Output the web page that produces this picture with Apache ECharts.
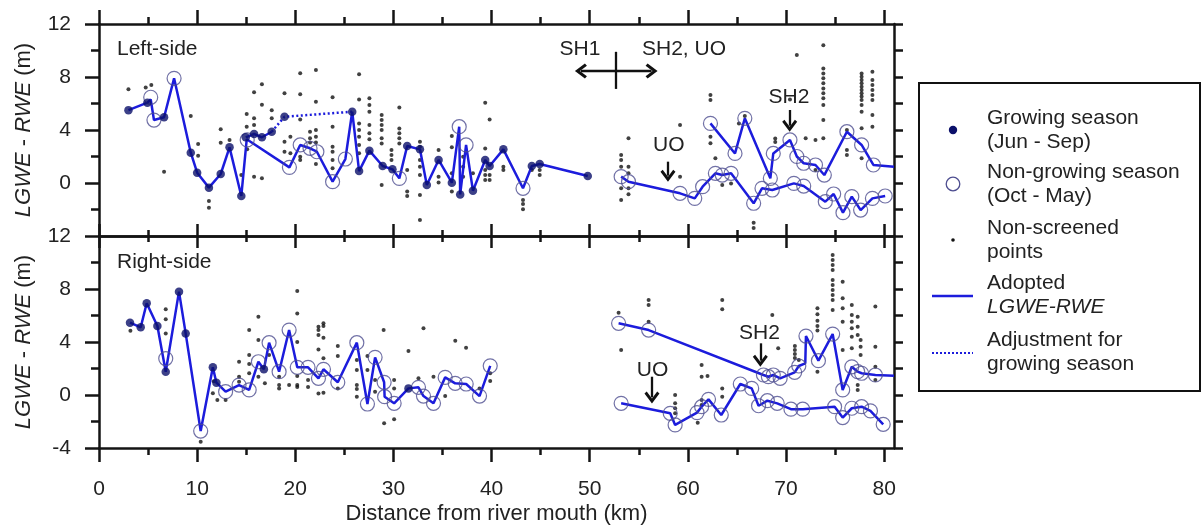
<!DOCTYPE html>
<html><head><meta charset="utf-8">
<script src="https://cdn.jsdelivr.net/npm/echarts@6/dist/echarts.min.js"></script>
<style>html,body{margin:0;padding:0;background:#fff}#c{width:1202px;height:527px}</style>
</head><body><div id="c"></div>
<script>
// ---------- tick labels ----------
const xTicksMajor = [0,10,20,30,40,50,60,70,80];
const xTicksMinor = [5,15,25,35,45,55,65,75];

// ---------- TOP PANEL (Left-side) ----------
const topGrowing = [[3.0,5.5],[4.93,6.06],[6.63,4.96],[9.35,2.29],[10.0,0.78],[11.2,-0.35],[12.4,0.68],[13.3,2.69],[14.5,-0.98],[14.95,3.45],[15.8,3.7],[16.6,3.45],[17.6,3.87],[18.9,5.0],[25.8,5.38],[26.5,0.9],[27.55,2.44],[28.9,1.28],[29.9,1.03],[31.4,2.79],[32.7,2.54],[33.4,-0.15],[34.6,1.74],[35.95,0.02],[36.8,-0.86],[38.1,-0.58],[39.35,1.74],[39.8,1.28],[41.2,2.54],[44.1,1.28],[44.9,1.43],[49.8,0.53]];
const topNonGrowing = [[5.27,6.47],[5.6,4.75],[7.65,7.9],[15.1,3.25],[19.4,1.18],[20.5,2.87],[21.5,2.62],[22.2,2.36],[23.8,0.1],[25.1,1.81],[30.6,0.35],[36.7,4.25],[37.4,2.87],[43.2,-0.4],
 [53.2,0.48],[53.95,0.1],[59.2,-0.78],[60.7,-1.16],[61.5,-0.28],[62.8,0.73],[63.5,0.6],[64.4,0.73],[66.7,-1.53],[67.55,-0.4],[68.6,-0.53],[70.8,-0.03],[71.8,-0.23],[74.0,-1.41],[74.85,-0.83],[75.8,-2.24],[76.7,-1.03],[77.6,-2.04],[78.8,-1.16],[80.1,-0.98],
 [62.3,4.5],[64.8,2.23],[65.8,4.88],[68.4,0.35],[68.7,2.23],[70.4,3.25],[71.1,2.0],[71.8,1.49],[73.0,1.36],[73.9,0.6],[76.2,3.87],[77.7,2.87],[78.9,1.36]];
const topLine1 = [[3.0,5.5],[4.93,6.06],[5.27,6.3],[5.6,4.75],[6.63,4.96],[7.65,7.9],[9.35,2.29],[10.0,0.78],[11.2,-0.35],[12.4,0.68],[13.3,2.69],[14.5,-0.98],[15.05,3.3],[19.4,1.18],[20.5,2.87],[21.5,2.62],[22.2,2.36],[23.8,0.1],[25.1,1.81],[25.8,5.38],[26.5,0.9],[27.55,2.44],[28.9,1.28],[29.9,1.03],[30.6,0.35],[31.4,2.79],[32.7,2.54],[33.4,-0.15],[34.6,1.74],[35.95,0.02],[36.7,4.25],[36.8,-0.86],[37.4,2.87],[38.1,-0.58],[39.35,1.74],[39.8,1.28],[41.2,2.54],[43.2,-0.4],[44.1,1.28],[44.9,1.43],[49.8,0.53]];
const topLine2 = [[14.95,3.45],[15.8,3.7],[16.6,3.45],[17.6,3.87]];
const topLine3 = [[53.2,0.48],[53.95,0.1],[59.2,-0.78],[60.7,-1.16],[61.5,-0.28],[62.8,0.73],[63.5,0.6],[64.4,0.73],[66.7,-1.53],[67.55,-0.4],[68.6,-0.53],[70.8,-0.03],[71.8,-0.23],[74.0,-1.41],[74.85,-0.83],[75.8,-2.24],[76.7,-1.03],[77.6,-2.04],[78.8,-1.16],[80.1,-0.98]];
const topLine4 = [[62.3,4.5],[64.8,2.23],[65.8,4.88],[68.4,0.35],[68.7,2.23],[70.4,3.25],[71.1,2.0],[71.8,1.49],[73.0,1.36],[73.9,0.6],[76.2,3.87],[77.7,2.87],[78.9,1.36],[81,1.22]];
const topAdjust = [[17.6,3.87],[18.9,5.0],[25.8,5.38]];
const topNonScreened = [[3.0,7.07],[4.76,7.2],[5.33,7.4],[6.63,0.85],[9.35,5.06],[10.1,2.94],[10.1,2.06],[11.2,-1.36],[11.2,-1.86],[12.4,4.05],[12.4,3.04],[13.3,3.25],[14.5,0.6],[15.05,5.2],[15.05,4.25],[15.8,6.85],[15.8,4.88],[15.8,4.38],[16.6,7.45],[16.6,5.9],[16.6,0.35],[15.8,0.48],[17.6,5.5],[17.6,4.88],[18.9,6.77],[18.9,3.12],[18.9,2.36],[19.5,3.5],[15.1,2.54],[19.5,2.24],
 [20.5,8.28],[22.1,8.53],[20.5,6.69],[22.1,6.14],[23.8,6.47],[20.5,4.8],[21.5,3.87],[21.5,3.37],[21.5,3.05],[22.1,4.0],[22.1,3.5],[22.1,3.05],[22.1,1.43],[20.5,1.99],[20.5,1.74],[23.8,4.25],[23.8,2.74],[23.8,2.36],[23.8,1.74],[23.8,1.11],
 [26.5,8.2],[26.5,6.31],[26.5,4.5],[26.5,4.0],[26.5,3.5],[26.5,2.86],[26.5,2.24],[27.55,6.39],[27.55,5.89],[27.55,5.38],[27.55,4.38],[27.55,3.75],[27.55,3.3],
 [28.8,5.13],[28.8,4.75],[28.8,4.38],[28.8,4.0],[28.8,3.37],[28.8,2.99],[28.8,-0.15],[30.6,5.69],[30.6,4.12],[30.6,3.75],[30.6,3.37],[30.6,2.99],[29.8,2.49],[29.8,2.11],[29.8,1.74],
 [31.4,0.98],[31.4,-0.65],[31.4,-0.98],[32.7,3.12],[32.7,2.74],[32.7,1.74],[32.7,1.23],[32.7,0.6],[32.7,-0.91],[32.7,-2.79],[34.6,2.49],[34.6,0.48],[34.6,0.03],
 [35.95,3.55],[35.95,2.69],[35.95,0.73],[35.95,-0.65],[37.1,1.99],[37.1,1.23],[37.1,0.48],[38.1,0.73],
 [39.35,6.06],[39.8,4.8],[39.35,2.61],[39.35,0.98],[39.35,0.6],[39.35,0.23],[39.8,0.6],[39.8,0.23],[41.2,1.23],[41.2,0.98],[43.2,-1.28],[43.2,-1.58],[43.2,-1.98],[44.1,0.98],[44.9,0.98],[44.9,0.6],
 [53.2,2.11],[53.2,1.74],[53.2,1.23],[53.95,1.23],[53.95,0.73],[53.2,-0.4],[53.95,-0.4],[53.95,-0.85],[53.2,-1.28],[53.95,3.37],[59.2,4.38],[59.2,0.48],[62.3,6.64],[62.3,6.26],[62.3,3.5],[62.3,3.0],[62.8,1.87],[63.5,-0.15],[64.4,-0.03],[65.2,4.5],[65.8,5.05],[66.7,-3.0],[66.7,-3.4],[68.9,3.35],[68.9,3.1],[70.4,6.3],[71.1,9.66],[72.0,3.37],[73.0,3.25],[73.0,0.98],
 [73.8,10.4],[73.8,8.65],[73.8,8.27],[73.8,7.9],[73.8,7.52],[73.8,7.14],[73.8,6.77],[73.8,6.39],[73.8,5.89],[73.8,4.75],[73.8,3.37],[76.2,4.0],[76.2,2.5],[76.2,2.11],
 [77.7,8.27],[77.7,8.02],[77.7,7.77],[77.7,7.52],[77.7,7.27],[77.7,7.02],[77.7,6.77],[77.7,6.52],[77.7,6.26],[77.7,5.89],[77.7,5.38],[77.7,4.13],[77.7,1.87],
 [78.8,8.4],[78.8,7.77],[78.8,7.39],[78.8,7.02],[78.8,6.64],[78.8,6.26],[78.8,5.13],[78.8,4.25]];

// ---------- BOTTOM PANEL (Right-side) ----------
const botGrowing = [[3.16,5.46],[4.25,5.11],[4.86,6.92],[5.95,5.21],[6.8,1.76],[8.15,7.8],[8.83,4.65],[11.6,2.09],[11.96,0.93],[16.8,1.94],[31.53,0.5]];
const botNonGrowing = [[6.8,2.75],[10.36,-2.72],[12.9,0.25],[14.27,0.75],[15.3,0.38],[16.24,2.51],[17.33,3.95],[18.35,1.76],[19.37,4.9],[20.2,2.09],[21.3,2.09],[22.36,1.26],[22.87,1.94],[24.33,0.96],[26.27,3.95],[27.35,-0.68],[28.13,2.84],[29.05,0.96],[29.1,-0.13],[30.07,-0.63],[32.55,0.58],[33.06,-0.08],[34.08,-0.63],[35.27,1.33],[36.29,0.88],[37.41,0.83],[38.77,-0.08],[39.86,2.2],
 [52.94,5.41],[56.0,4.9],[67.7,1.51],[68.2,1.38],[68.7,1.51],[69.4,1.26],[70.88,1.71],[71.3,2.19],[72.03,4.45],[73.3,2.59],[74.75,4.6],[75.77,0.38],[76.7,2.13],[77.3,1.76],[77.7,1.64],[79.1,1.51],
 [53.2,-0.63],[58.2,-1.38],[58.7,-2.26],[60.93,-1.33],[61.4,-0.88],[62.1,-0.33],[63.4,-1.51],[65.34,0.83],[66.5,0.5],[67.2,-0.81],[68.1,-0.43],[69.1,-0.63],[70.5,-1.07],[71.7,-1.07],[74.95,-0.88],[75.77,-1.7],[76.7,-1.0],[77.7,-0.88],[78.6,-1.2],[79.9,-2.21]];
const botLine1 = [[3.16,5.46],[4.25,5.11],[4.86,6.92],[5.95,5.21],[6.8,1.76],[8.15,7.8],[8.83,4.65],[10.36,-2.72],[11.6,2.09],[11.96,0.93],[12.9,0.25],[14.27,0.75],[15.3,0.38],[16.24,2.51],[16.8,1.94],[17.33,3.95],[18.35,1.76],[19.37,4.9],[20.2,2.09],[21.3,2.09],[22.36,1.26],[22.87,1.94],[24.33,0.96],[26.27,3.95],[27.35,-0.68],[28.13,2.84],[29.05,0.96],[29.1,-0.13],[30.07,-0.63],[31.53,0.5],[32.55,0.58],[33.06,-0.08],[34.08,-0.63],[35.27,1.33],[36.29,0.88],[37.41,0.83],[38.77,-0.08],[39.86,2.2]];
const botLine2 = [[52.94,5.41],[56.0,4.9],[67.7,1.51],[68.2,1.38],[68.7,1.51],[69.4,1.26],[70.88,1.71],[71.3,2.19],[71.96,2.39],[72.03,4.45],[73.3,2.59],[74.75,4.6],[75.77,0.38],[76.7,2.13],[77.3,1.76],[77.7,1.64],[79.1,1.51],[81,1.45]];
const botLine3 = [[53.2,-0.63],[58.2,-1.38],[58.7,-2.26],[60.93,-1.33],[61.4,-0.88],[62.1,-0.33],[63.4,-1.51],[65.34,0.83],[66.5,0.5],[67.2,-0.81],[68.1,-0.43],[69.1,-0.63],[70.5,-1.07],[71.7,-1.07],[74.95,-0.88],[75.77,-1.7],[76.7,-1.0],[77.7,-0.88],[78.6,-1.2],[79.9,-2.21]];
const botNonScreened = [[3.2,4.85],[6.8,6.47],[6.8,5.71],[6.8,4.65],[10.36,-3.52],[11.6,0.13],[12.06,-0.38],[12.9,-0.38],[11.7,1.04],[14.27,2.51],[14.27,1.38],[14.27,1.0],[15.3,4.9],[15.3,3.02],[15.3,2.34],[15.3,1.64],[16.24,5.9],[16.24,4.15],[16.24,1.38],[16.9,0.88],[17.33,3.02],[18.35,1.38],[18.35,0.75],[18.35,0.5],[19.37,0.75],
 [20.2,7.85],[20.2,6.16],[20.2,4.0],[20.2,1.43],[20.2,0.75],[20.2,0.6],[21.3,1.13],[21.3,0.6],[22.36,5.15],[22.36,4.9],[22.36,4.52],[22.36,3.44],[22.36,0.12],[22.87,5.41],[22.87,5.2],[22.87,4.33],[22.87,2.77],[22.87,0.17],[24.33,3.7],[24.33,2.95],[24.33,0.5],
 [26.27,2.64],[26.27,1.89],[26.27,0.75],[26.27,0.45],[26.27,-0.13],[27.35,2.95],[27.35,1.89],[28.13,1.13],[28.13,0.25],[29.0,4.9],[29.05,-2.14],[30.07,1.13],[30.07,0.5],[30.07,-1.83],[31.53,3.32],[32.55,1.26],[33.06,5.03],[34.08,1.38],[35.27,-0.08],[36.3,4.1],[37.4,3.57],[39.86,1.64],[39.86,1.06],[38.77,0.5],
 [52.94,6.21],[53.2,3.4],[56.0,7.17],[56.0,6.79],[56.0,5.53],[58.7,0.0],[58.7,-0.63],[58.7,-1.0],[58.7,-1.38],[61.4,2.26],[61.4,1.38],[62.0,1.43],[61.0,-2.09],[61.4,-0.38],[61.4,-0.75],[63.5,7.17],[63.5,6.47],[63.5,0.5],[63.5,-0.13],[68.6,6.04],[69.2,3.52],
 [70.9,3.7],[70.9,3.4],[70.9,3.1],[70.9,2.8],[71.3,2.64],[73.2,6.54],[73.2,6.1],[73.2,5.6],[73.2,5.2],[73.2,4.86],[73.2,1.76],
 [74.75,10.57],[74.75,10.19],[74.75,9.81],[74.75,9.43],[74.75,8.68],[74.75,8.3],[74.75,7.92],[74.75,7.55],[74.75,7.17],[74.75,6.42],
 [75.77,8.55],[75.77,7.3],[75.77,6.54],[75.77,5.53],[75.77,3.4],[76.7,6.79],[76.7,6.04],[76.7,5.53],[76.7,5.03],[76.7,4.4],[76.7,3.52],[77.3,5.91],[77.3,5.16],[77.3,4.53],[77.6,4.15],[77.6,3.65],[77.6,3.02],[77.3,0.75],[77.3,0.38],[79.1,6.67],[79.1,3.65],[79.1,2.13],[79.1,1.13]];

// ---------- annotations (data coordinates) ----------
const topLabels = [{name:'SH1',coord:[49.0,10.1]},{name:'SH2, UO',coord:[59.6,10.1]},{name:'UO',coord:[58.05,2.87]},{name:'SH2',coord:[70.3,6.5]},{name:'Left-side',coord:[1.83,10.1],label:{align:'left'}}];
const botLabels = [{name:'UO',coord:[56.4,1.89]},{name:'SH2',coord:[67.3,4.65]},{name:'Right-side',coord:[1.83,10.0],label:{align:'left'}}];

const FF = '"Liberation Sans", Arial, Helvetica, sans-serif';
const AX = '#141414', TXT = '#222', BLUE = '#1c1cdc', NAVY = '#0b106a', CIRC = '#4e4e90';
const CHEV = 'path://M0,10 L10,0 L20,10 L17,12 L10,5 L3,12 Z';

const topArrows = [
  [{coord:[52.7,9.9],symbol:'none'},{coord:[52.7,7.1],symbol:'none'}],
  [{coord:[49.1,8.45],symbol:CHEV},{coord:[56.3,8.45],symbol:CHEV}],
  [{coord:[57.97,1.61],symbol:'none'},{coord:[57.97,0.55],symbol:CHEV}],
  [{coord:[70.37,5.51],symbol:'none'},{coord:[70.37,4.32],symbol:CHEV}]
];
const botArrows = [
  [{coord:[56.34,1.38],symbol:'none'},{coord:[56.34,-0.18],symbol:CHEV}],
  [{coord:[67.38,3.9],symbol:'none'},{coord:[67.38,2.59],symbol:CHEV}]
];

function xAx(gi, pos, vals, len, inside, lineShow, extra) {
  return Object.assign({
    type:'value', gridIndex:gi, position:pos, min:0, max:81, interval:10,
    axisLine:{show:lineShow, onZero:false, lineStyle:{color:AX, width:2.5}},
    axisTick:{show:true, inside:inside, length:len, customValues:vals, lineStyle:{color:AX, width:2.5}},
    axisLabel:{show:false}, splitLine:{show:false}
  }, extra || {});
}
const yName = {name:'{i|LGWE} - {i|RWE} (m)', nameLocation:'middle', nameGap:64,
  nameTextStyle:{fontSize:22, color:TXT, fontFamily:FF, rich:{i:{fontStyle:'italic', fontSize:22, color:TXT, fontFamily:FF}}}};
function yLeft(gi, fmt) {
  return Object.assign({
    type:'value', gridIndex:gi, position:'left', min:-4, max:12, interval:4,
    axisLine:{show:true, onZero:false, lineStyle:{color:AX, width:2.5}},
    axisTick:{show:true, length:14, lineStyle:{color:AX, width:2.5}},
    minorTick:{show:true, splitNumber:2, length:8, lineStyle:{color:AX, width:2.5}},
    axisLabel:{show:true, fontSize:21, color:TXT, fontFamily:FF, margin:28, formatter:fmt},
    splitLine:{show:false}, minorSplitLine:{show:false}
  }, yName);
}
function yRight(gi) {
  return {type:'value', gridIndex:gi, position:'right', min:-4, max:12, interval:2,
    axisLine:{show:true, onZero:false, lineStyle:{color:AX, width:2.5}},
    axisTick:{show:true, length:9, lineStyle:{color:AX, width:2.5}},
    axisLabel:{show:false}, splitLine:{show:false}};
}

function panel(xi, yi, ns, lines, adjust, ng, g, labels, arrows) {
  const s = [];
  s.push({type:'scatter', xAxisIndex:xi, yAxisIndex:yi, data:ns, symbolSize:4, itemStyle:{color:'#111'}, silent:true, z:1,
    markLine:{silent:true, animation:false, symbolSize:[15,12], lineStyle:{color:'#111', width:2.3, type:'solid'}, label:{show:false}, emphasis:{disabled:true}, data:arrows},
    markPoint:{silent:true, animation:false, symbol:'circle', symbolSize:1, itemStyle:{color:'rgba(0,0,0,0)'},
      label:{show:true, position:'inside', formatter:'{b}', fontSize:21, color:TXT, fontFamily:FF}, data:labels}
  });
  lines.forEach(seg => s.push({type:'line', xAxisIndex:xi, yAxisIndex:yi, data:seg, showSymbol:false, symbol:'none', silent:true, z:2,
    lineStyle:{color:BLUE, width:2.5}}));
  adjust.forEach(seg => s.push({type:'line', xAxisIndex:xi, yAxisIndex:yi, data:seg, showSymbol:false, symbol:'none', silent:true, z:2,
    lineStyle:{color:BLUE, width:2.5, type:[2,2.5]}}));
  s.push({type:'scatter', xAxisIndex:xi, yAxisIndex:yi, data:ng, symbol:'circle', symbolSize:14, silent:true, z:3,
    itemStyle:{color:'rgba(0,0,0,0)', borderColor:CIRC, borderWidth:1.2}});
  s.push({type:'scatter', xAxisIndex:xi, yAxisIndex:yi, data:g, symbolSize:8.5, silent:true, z:4, itemStyle:{color:NAVY}});
  return s;
}

const legendText = (y, text) => ({type:'text', x:987, y:y, silent:true, style:{text:text, fill:TXT, fontSize:21, fontFamily:FF, lineHeight:24, verticalAlign:'middle', align:'left',
  rich:{i:{fontStyle:'italic', fontSize:21, fontFamily:FF, lineHeight:24, fill:TXT}}}});

const chart = echarts.init(document.getElementById('c'), null, {renderer:'canvas'});
chart.setOption({
  animation:false, backgroundColor:'#fff',
  grid:[{left:99, top:24, width:795, height:212}, {left:99, top:236, width:795, height:212}],
  xAxis:[
    xAx(0,'bottom',xTicksMajor,12,true,true),
    xAx(0,'bottom',xTicksMinor,6,true,false),
    xAx(0,'top',xTicksMajor,14,false,true),
    xAx(0,'top',xTicksMinor,7,false,false),
    xAx(1,'top',xTicksMajor,12,true,true),
    xAx(1,'top',xTicksMinor,6,true,false),
    xAx(1,'bottom',xTicksMajor,14,false,true,{
      axisLabel:{show:true, customValues:xTicksMajor, fontSize:21, color:TXT, fontFamily:FF, margin:31},
      name:'Distance from river mouth (km)', nameLocation:'middle', nameGap:55,
      nameTextStyle:{fontSize:22, color:TXT, fontFamily:FF}}),
    xAx(1,'bottom',xTicksMinor,7,false,false)
  ],
  yAxis:[
    yLeft(0, v => v === -4 ? '' : String(v)),
    yRight(0),
    yLeft(1, v => String(v)),
    yRight(1)
  ],
  series:[].concat(
    panel(0, 0, topNonScreened, [topLine1, topLine2, topLine3, topLine4], [topAdjust], topNonGrowing, topGrowing, topLabels, topArrows),
    panel(6, 2, botNonScreened, [botLine1, botLine2, botLine3], [], botNonGrowing, botGrowing, botLabels, botArrows)
  ),
  graphic:[
    {type:'rect', silent:true, shape:{x:919, y:83, width:281, height:308}, style:{fill:'#fff', stroke:'#111', lineWidth:2}},
    {type:'circle', silent:true, shape:{cx:953, cy:130, r:4.2}, style:{fill:NAVY}},
    {type:'circle', silent:true, shape:{cx:953, cy:184, r:6.8}, style:{fill:'none', stroke:CIRC, lineWidth:1.3}},
    {type:'circle', silent:true, shape:{cx:953, cy:240, r:1.8}, style:{fill:'#111'}},
    {type:'line', silent:true, shape:{x1:932, y1:296, x2:973, y2:296}, style:{stroke:BLUE, lineWidth:2.5}},
    {type:'line', silent:true, shape:{x1:932, y1:353, x2:973, y2:353}, style:{stroke:BLUE, lineWidth:2, lineDash:[2,2]}},
    legendText(130, 'Growing season\n(Jun - Sep)'),
    legendText(184.5, 'Non-growing season\n(Oct - May)'),
    legendText(240.5, 'Non-screened\npoints'),
    legendText(295.5, 'Adopted\n{i|LGWE-RWE}'),
    legendText(352.5, 'Adjustment for\ngrowing season')
  ]
});
</script></body></html>
